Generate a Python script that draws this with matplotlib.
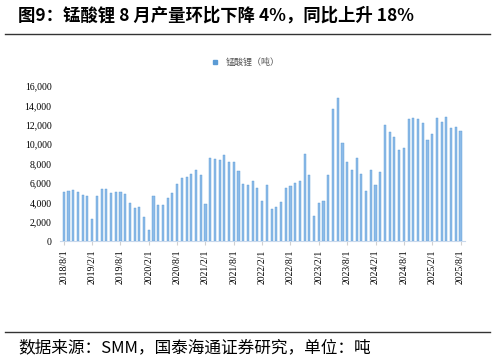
import matplotlib
matplotlib.use("Agg")
import matplotlib.pyplot as plt
from matplotlib.lines import Line2D

plt.rcParams["font.family"] = ["Noto Sans CJK SC", "DejaVu Sans"]

# monthly output of lithium manganate, 2018/8 .. 2025/8 (tonnes)
months = [f"{y}/{m}/1" for y in range(2018, 2026) for m in range(1, 13)]
months = months[7:7 + 85]
output = [
    5060, 5130, 5230, 5060, 4750, 4640, 2240, 4640, 5370, 5400, 4920, 5020,
    5020, 4890, 3890, 3370, 3510, 2440, 1170, 4610, 3750, 3750, 4400, 4920,
    5920, 6470, 6570, 6910, 7360, 6850, 3820, 8600, 8460, 8360, 8940, 8190,
    8190, 7260, 5880, 5780, 6230, 5500, 4130, 5780, 3270, 3510, 4030, 5500,
    5710, 6020, 6230, 8980, 6850, 2580, 3890, 4130, 6850, 13620, 14790, 10180,
    8120, 7360, 8570, 6950, 5160, 7360, 5750, 7090, 11940, 11280, 10770, 9360,
    9600, 12560, 12760, 12630, 12180, 10420, 11080, 12660, 12320, 12800, 11660,
    11770, 11350,
]
yticks = list(range(0, 16001, 2000))
series_name = "锰酸锂（吨）"

fig = plt.figure(figsize=(4.96, 3.62), dpi=100)
ax = fig.add_axes([0.121, 0.334, 0.817, 0.428])

xs = range(len(output))
ax.bar(xs, output, width=0.45, color="#8dbbe8", edgecolor="#5b9bd5", linewidth=0.3)

ax.set_ylim(0, 16000)
ax.set_xlim(-0.8, 85)
ax.set_yticks(yticks)
ax.set_yticklabels([f"{v:,}" for v in yticks], family="Liberation Serif", fontsize=7)
ticks = list(range(0, len(output), 6))
ax.set_xticks(ticks)
ax.set_xticklabels([months[i] for i in ticks], rotation=90, family="Liberation Serif",
                   fontsize=7)
ax.tick_params(axis="y", length=0, pad=6)
ax.tick_params(axis="x", length=3, color="#d0d0d0", pad=3)
for s in ["top", "right", "left"]:
    ax.spines[s].set_visible(False)
ax.spines["bottom"].set_color("#c8d8ec")
ax.spines["bottom"].set_linewidth(0.8)

handle = Line2D([], [], marker="s", linestyle="none", markersize=3.5,
                markerfacecolor="#5b9bd5", markeredgecolor="#5b9bd5")
fig.legend([handle], [series_name], loc="center", bbox_to_anchor=(0.49, 0.828),
           frameon=False, fontsize=6.5, handletextpad=0.2, labelcolor="#555555")

fig.text(0.036, 0.958, "图9：锰酸锂 8 月产量环比下降 4%，同比上升 18%",
         fontsize=12.5, fontweight="bold", va="center", ha="left")
fig.add_artist(Line2D([0.01, 0.988], [0.906, 0.906], color="#333333", linewidth=1))
fig.add_artist(Line2D([0.01, 0.988], [0.083, 0.083], color="#333333", linewidth=1))
fig.text(0.036, 0.040, "数据来源：SMM，国泰海通证券研究，单位：吨",
         fontsize=12, va="center", ha="left")

fig.savefig("out.png", dpi=100)
